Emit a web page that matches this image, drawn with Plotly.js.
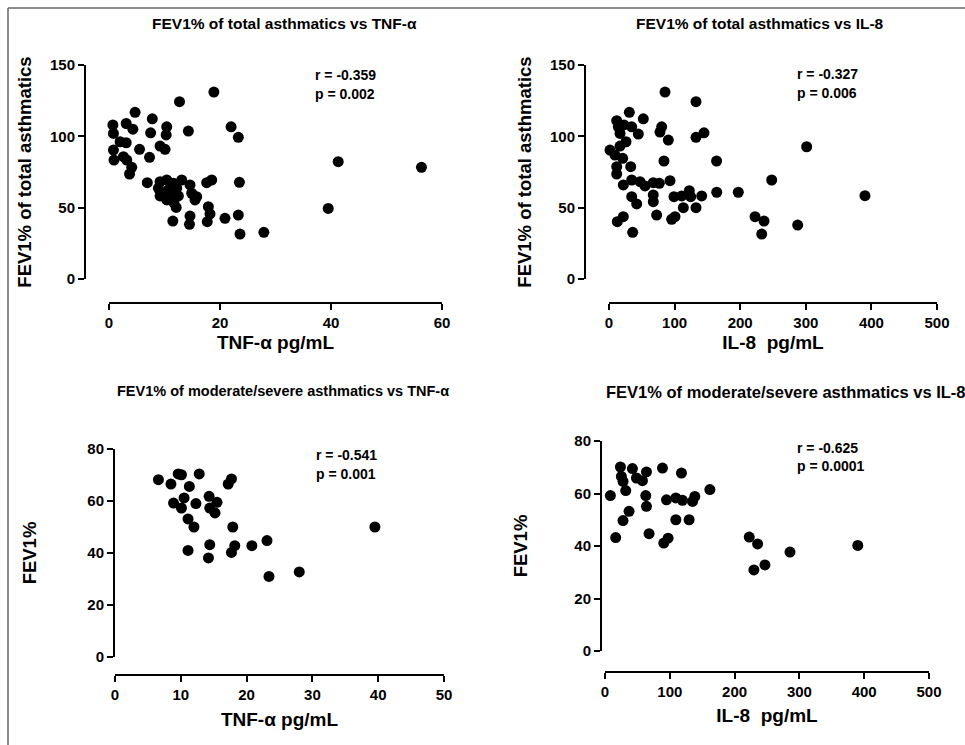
<!DOCTYPE html>
<html>
<head>
<meta charset="utf-8">
<script src="https://cdn.plot.ly/plotly-3.0.1.min.js"></script>
<style>html,body{margin:0;padding:0;background:#fff;}#chart{width:965px;height:745px;}</style>
</head>
<body>
<div id="chart"></div>
<script>
// Panel A: FEV1% of total asthmatics vs TNF-α
const tnfTotal = [18.9,12.7,4.7,7.8,0.7,0.8,3.1,4.3,7.5,10.4,10.3,14.3,22,23.3,2,3.1,0.8,5.5,9.2,10.1,7.3,0.9,2.6,3.2,4.1,3.7,6.9,9.2,10.4,11.6,13.1,14.6,17.6,18.5,23.5,8.9,10.7,12.2,9.2,11,12.5,14.9,15.8,10.4,11.7,15.5,12.1,17.9,18.2,20.9,23.3,14.6,14.5,17.7,11.5,23.6,27.9,41.3,56.3,39.5];
const fevTotalTnf = [131,124.3,116.8,112.3,108,102,109,105,102.5,106.7,101,103.7,106.7,99.3,96.2,95.5,90.4,90.9,93.2,90.9,85.3,83.4,85.7,83.4,78.3,73.6,67.5,68.2,69.4,67.1,69.4,65.9,67.5,69.4,67.8,63.6,62.4,63.6,58.2,58.9,58.2,60.1,57.7,55.4,53.5,55.4,50.2,50.7,45.6,42.5,44.8,44.1,38.3,40.2,40.6,31.5,32.7,82.2,78.3,49.5];

// Panel B: FEV1% of total asthmatics vs IL-8
const il8Total = [85.4,132.6,31,52.3,11.7,14.2,22.9,34.6,44.7,16.8,80.3,77.7,90.4,132.6,144.8,25.9,16.8,1.5,9.1,20.9,83.8,164,248,11.7,33.1,11.7,21.8,34.6,47.3,54.9,67.5,76.7,93,67.5,67.5,34.6,42.2,99.1,110.8,122.4,124.5,141.3,164.2,197.1,113.3,132.6,72.6,95.5,100.6,21.8,12.7,36.1,222.6,236.3,232.8,301.3,390.2,287.6];
const fevTotalIl8 = [131,124.3,116.8,112.3,111,106.7,108,106.7,101.6,102,106.7,103,97.4,99.3,102.5,96.2,93.2,90.4,86.9,84.6,82.7,82.7,69.4,78.7,78.7,73.6,65.9,69.4,68.2,65.2,67.5,67.1,68.9,58.9,54.2,57.7,52.6,57.7,58.2,61.9,57.7,58.2,60.8,60.8,50,50,44.8,41.8,43.7,43.7,40.2,32.7,43.7,40.6,31.5,92.7,58.4,37.8];

// Panel C: FEV1% of moderate/severe asthmatics vs TNF-α
const tnfMod = [6.6,9.6,10.1,12.8,8.5,11.3,17.7,17.2,8.9,10.5,10.1,12.3,14.3,15.5,14.4,15.2,11.1,12,17.9,11.1,14.4,14.2,17.7,18.2,20.8,23.1,23.4,28,39.5];
const fevModTnf = [68.2,70.4,70.1,70.4,66.5,65.6,68.5,66.5,59.2,61.2,57.3,59,61.8,59.5,57.3,55.4,53.1,50,50,41,43.2,38.1,40.2,42.8,42.8,44.8,31,32.7,50];

// Panel D: FEV1% of moderate/severe asthmatics vs IL-8
const il8Mod = [23.8,42.3,64,88.7,118,25.3,27.8,48.5,57.8,32,8.3,62.9,64,94.9,109.3,119.6,135.1,138.6,161.8,37.1,27.8,109.3,129.8,16.5,68,90.7,97.4,222.6,235.5,246.8,229.8,285.5,390.1];
const fevModIl8 = [70.1,69.5,68.2,69.7,67.8,66.5,64.6,65.9,64.9,61.1,59.2,59.2,55.1,57.6,58.3,57.4,57,58.9,61.5,53.2,49.7,50,50,43.2,44.7,41.1,43,43.4,40.8,32.8,30.9,37.7,40.2];

const panelTitles = ["FEV1% of total asthmatics vs TNF-α","FEV1% of total asthmatics vs IL-8","FEV1% of moderate/severe asthmatics vs TNF-α","FEV1% of moderate/severe asthmatics vs IL-8"];
const xTitles = ["TNF-α pg/mL","IL-8  pg/mL","TNF-α pg/mL","IL-8  pg/mL"];
const yTitles = ["FEV1% of total asthmatics","FEV1% of total asthmatics","FEV1%","FEV1%"];
const rTexts = ["r = -0.359","r = -0.327","r = -0.541","r = -0.625"];
const pTexts = ["p = 0.002","p = 0.006","p = 0.001","p = 0.0001"];

const W = 965, H = 745;
const fx = px => px / W;
const fy = py => 1 - py / H;
const FONT = "Liberation Sans, Arial, sans-serif";

// geometry (pixels): x0/x1 = x range ends, y0/y1 = y range ends, xpos = x-axis line y, ypos = y-axis line x
const geo = [
  {x0:109,x1:442,xr:[0,60],xd:20, y0:279,y1:65,yr:[0,150],yd:50, xpos:302, ypos:86, xst:6, yst:13},
  {x0:609,x1:937,xr:[0,500],xd:100, y0:279,y1:65,yr:[0,150],yd:50, xpos:302, ypos:586, xst:6, yst:13},
  {x0:115,x1:444,xr:[0,50],xd:10, y0:657,y1:449,yr:[0,80],yd:20, xpos:674, ypos:115, xst:11, yst:46},
  {x0:605,x1:929,xr:[0,500],xd:100, y0:651,y1:441,yr:[0,80],yd:20, xpos:671, ypos:602, xst:10, yst:42}
];
const xs = [tnfTotal, il8Total, tnfMod, il8Mod];
const ys = [fevTotalTnf, fevTotalIl8, fevModTnf, fevModIl8];

const data = [];
const layout = {
  width: W, height: H,
  margin: {l:0,r:0,t:0,b:0},
  paper_bgcolor: "#fff", plot_bgcolor: "rgba(0,0,0,0)",
  showlegend: false,
  font: {family: FONT, color: "#000"},
  annotations: [],
  shapes: [
    {type:"line", xref:"paper", yref:"paper", x0:fx(8), x1:1, y0:fy(8), y1:fy(8), line:{color:"#666", width:1.5}},
    {type:"line", xref:"paper", yref:"paper", x0:fx(8), x1:fx(8), y0:fy(8), y1:0, line:{color:"#666", width:1.5}}
  ]
};

const titlePos = [[284,24],[760,24],[283,391],[786,392]];
const titleSize = [15.5,15.5,14.5,16.5];
const rPos = [[313,75,94],[795,74,93],[314,455,474],[795,448,466]];
const tickFont = {family: FONT, size: 15, weight: "bold", color: "#000"};

for (let i = 0; i < 4; i++) {
  const g = geo[i];
  const sfx = i === 0 ? "" : String(i + 1);
  const hxId = "x" + (i + 5), hyId = "y" + (i + 5);   // helper axes that place the offset axis lines
  // placeholder traces (a single gap, nothing drawn) so the helper subplots exist
  data.push({type: "scatter", mode: "markers", x: [null], y: [null], xaxis: "x" + sfx, yaxis: hyId, hoverinfo: "skip"});
  data.push({type: "scatter", mode: "markers", x: [null], y: [null], xaxis: hxId, yaxis: "y" + sfx, hoverinfo: "skip"});
  data.push({
    type: "scatter", mode: "markers",
    x: xs[i], y: ys[i],
    xaxis: "x" + sfx, yaxis: "y" + sfx,
    marker: {color: "#000", size: 11},
    cliponaxis: false, hoverinfo: "x+y"
  });

  layout["xaxis" + sfx] = {
    domain: [fx(g.x0), fx(g.x1)], range: g.xr, dtick: g.xd, tick0: 0,
    anchor: hyId,
    showline: true, linecolor: "#000", linewidth: 2,
    ticks: "outside", ticklen: 6, tickwidth: 2, tickcolor: "#000",
    showgrid: false, zeroline: false,
    tickfont: tickFont,
    title: {text: xTitles[i], standoff: g.xst, font: {family: FONT, size: 19, weight: "bold", color: "#000"}}
  };
  layout["yaxis" + sfx] = {
    domain: [fy(g.y0), fy(g.y1)], range: g.yr, dtick: g.yd, tick0: 0,
    anchor: hxId,
    showline: true, linecolor: "#000", linewidth: 2,
    ticks: "outside", ticklen: 6, tickwidth: 2, tickcolor: "#000",
    showgrid: false, zeroline: false,
    tickfont: tickFont,
    title: {text: yTitles[i], standoff: g.yst, font: {family: FONT, size: 18.5, weight: "bold", color: "#000"}}
  };
  layout["xaxis" + (i + 5)] = {domain: [fx(g.ypos), fx(g.x1)], anchor: hyId, range: [0, 1],
    showline: false, ticks: "", showticklabels: false, showgrid: false, zeroline: false};
  layout["yaxis" + (i + 5)] = {domain: [fy(g.xpos), fy(g.y1)], anchor: hxId, range: [0, 1],
    showline: false, ticks: "", showticklabels: false, showgrid: false, zeroline: false};

  layout.annotations.push({
    xref:"paper", yref:"paper", x: fx(titlePos[i][0]), y: fy(titlePos[i][1]),
    xanchor:"center", yanchor:"middle", showarrow:false,
    text: "<b>" + panelTitles[i] + "</b>", font:{family: FONT, size: titleSize[i], color:"#000"}
  });
  layout.annotations.push({
    xref:"paper", yref:"paper", x: fx(rPos[i][0]), y: fy(rPos[i][1]),
    xanchor:"left", yanchor:"middle", showarrow:false,
    text: "<b>" + rTexts[i] + "</b>", font:{family: FONT, size: 14, color:"#000"}
  });
  layout.annotations.push({
    xref:"paper", yref:"paper", x: fx(rPos[i][0]), y: fy(rPos[i][2]),
    xanchor:"left", yanchor:"middle", showarrow:false,
    text: "<b>" + pTexts[i] + "</b>", font:{family: FONT, size: 14, color:"#000"}
  });
}

Plotly.newPlot("chart", data, layout, {displayModeBar: false});
</script>
</body>
</html>
